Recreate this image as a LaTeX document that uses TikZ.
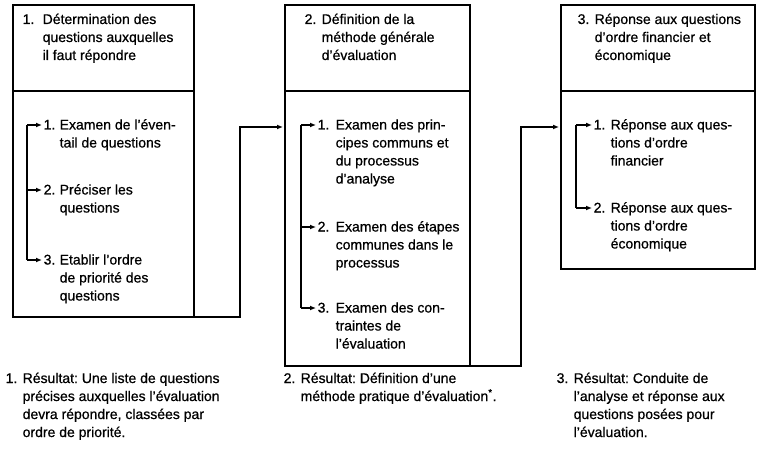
\documentclass[tikz,border=0pt]{standalone}
\usepackage{fontspec}
\setmainfont{Liberation Sans}[FakeBold=0.7]
\usetikzlibrary{arrows.meta}

\newcommand{\nrtext}[3]{\begin{tabular}[t]{@{}l@{}l@{}}\makebox[#2][l]{#1}&#3\end{tabular}}

\begin{document}
\begin{tikzpicture}[x=1pt,y=-1pt,line width=1.4pt,
    arr/.style={-{Latex[length=6pt,width=5pt]},shorten >=1pt}]

      \useasboundingbox (0,0) rectangle (760,457);

      \begin{scope}[every node/.style={draw,outer sep=0pt,inner sep=0pt,anchor=north west}]
        \node[minimum width=181pt,minimum height=86pt]  (h1) at (13,5)  {};
        \node[minimum width=181pt,minimum height=226pt] (b1) at (h1.south west) {};
        \node[minimum width=185pt,minimum height=86pt]  (h2) at (285,5) {};
        \node[minimum width=185pt,minimum height=275pt] (b2) at (h2.south west) {};
        \node[minimum width=194pt,minimum height=86pt]  (h3) at (561,5) {};
        \node[minimum width=194pt,minimum height=178pt] (b3) at (h3.south west) {};
      \end{scope}

      \begin{scope}[every node/.style={anchor=base west,inner sep=0pt,
          font=\fontsize{14}{18}\selectfont\frenchspacing}]
        % headers
        \node (t1) at (22,24)  {\nrtext{1.}{20pt}{Détermination des\\&questions auxquelles\\&il faut répondre}};
        \node (t2) at (304,24) {\nrtext{2.}{17pt}{Définition de la\\&méthode générale\\&d'évaluation}};
        \node (t3) at (577,24) {\nrtext{3.}{17pt}{Réponse aux questions\\&d'ordre financier et\\&économique}};
        % steps
        \node (i11) at (43,129.5)  {\nrtext{1.}{16pt}{Examen de l'éven-\\&tail de questions}};
        \node (i12) at (43,194.5)  {\nrtext{2.}{16pt}{Préciser les\\&questions}};
        \node (i13) at (43,264.5)  {\nrtext{3.}{16pt}{Etablir l'ordre\\&de priorité des\\&questions}};
        \node (i21) at (317,129.5) {\nrtext{1.}{18pt}{Examen des prin-\\&cipes communs et\\&du processus\\&d'analyse}};
        \node (i22) at (317,231.5) {\nrtext{2.}{18pt}{Examen des étapes\\&communes dans le\\&processus}};
        \node (i23) at (317,312.5) {\nrtext{3.}{18pt}{Examen des con-\\&traintes de\\&l'évaluation}};
        \node (i31) at (593,129.5) {\nrtext{1.}{17pt}{Réponse aux ques-\\&tions d'ordre\\&financier}};
        \node (i32) at (593,212.5) {\nrtext{2.}{17pt}{Réponse aux ques-\\&tions d'ordre\\&économique}};
        % results
        \node (r1) at (5,383)   {\nrtext{1.}{17pt}{Résultat: Une liste de questions\\&précises auxquelles l'évaluation\\&devra répondre, classées par\\&ordre de priorité.}};
        \node (r2) at (283,383) {\nrtext{2.}{17pt}{Résultat: Définition d'une\\&méthode pratique d'évaluation\textsuperscript{*}.}};
        \node (r3) at (556,383) {\nrtext{3.}{17pt}{Résultat: Conduite de\\&l'analyse et réponse aux\\&questions posées pour\\&l'évaluation.}};
      \end{scope}

      % brackets
      \coordinate (k11) at (27,125);
      \coordinate (k12) at (27,190);
      \coordinate (k13) at (27,260);
      \coordinate (k21) at (301,125);
      \coordinate (k22) at (301,227);
      \coordinate (k23) at (301,308);
      \coordinate (k31) at (576,125);
      \coordinate (k32) at (576,208);

      \draw (k11) -- (k13);
      \draw (k21) -- (k23);
      \draw (k31) -- (k32);
      \foreach \k/\i in {k11/i11,k12/i12,k13/i13,k21/i21,k22/i22,k23/i23,k31/i31,k32/i32}
        \draw[arr] (\k) -- (\k -| \i.west);

      % links between the stages
      \coordinate (c12) at (240,127);
      \coordinate (c23) at (521,127);
      \draw[arr,shorten >=2pt] (b1.south east) -| (c12) -- (c12 -| b2.west);
      \draw[arr,shorten >=2pt] (b2.south east) -| (c23) -- (c23 -| b3.west);

    \end{tikzpicture}
\end{document}
